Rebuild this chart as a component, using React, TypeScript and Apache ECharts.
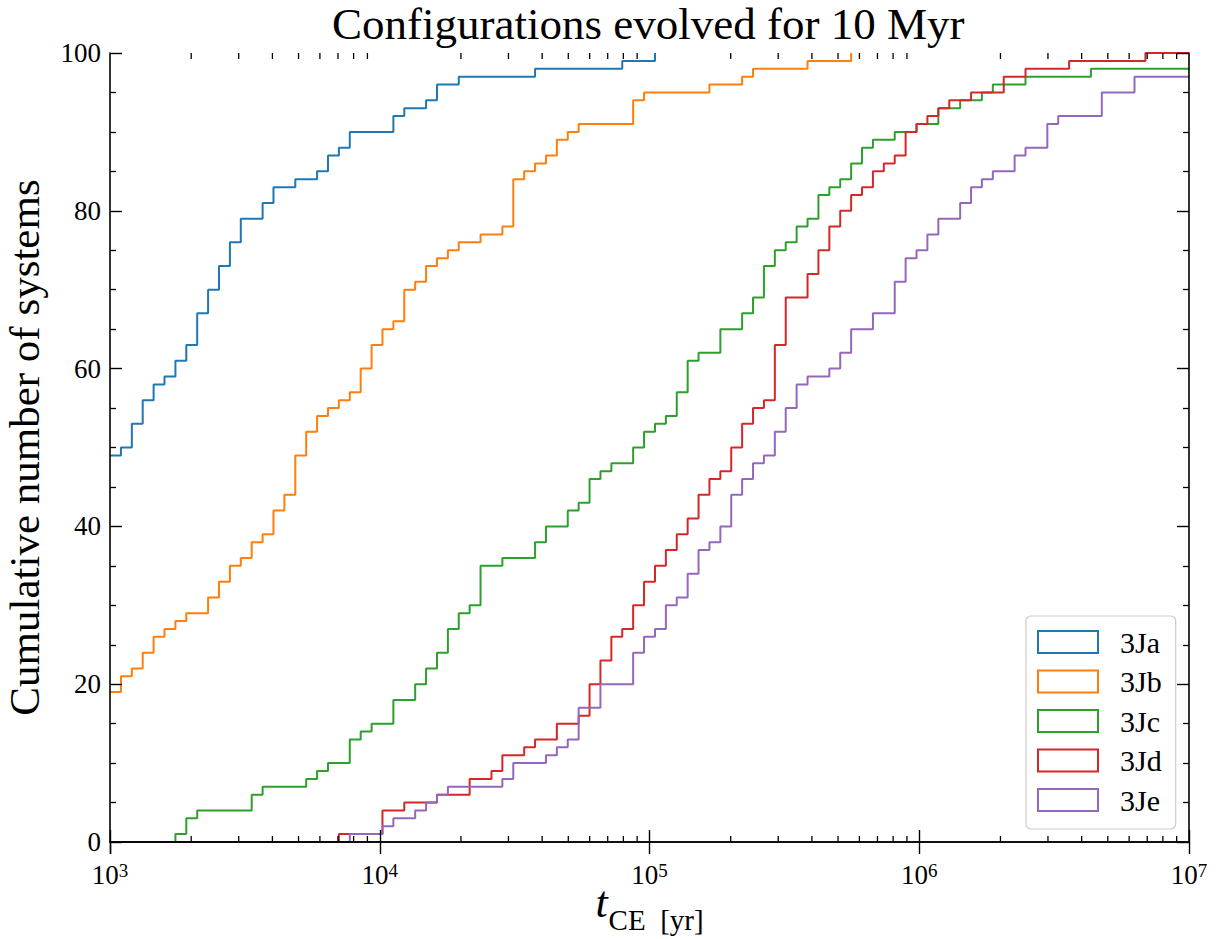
import React, { useEffect, useRef } from "react";
import * as echarts from "echarts";

// ---- data (t in yr, cumulative number of systems) ----
const names = ["3Ja", "3Jb", "3Jc", "3Jd", "3Je"];
const colors = ["#1f77b4", "#ff7f0e", "#2ca02c", "#d62728", "#9467bd"];

const jaT = [1000, 1098, 1205, 1322, 1451, 1592, 1748, 1918, 2105, 2310, 2535, 2783, 3054, 3679, 4037, 4863, 5857, 6428, 7055, 7743, 11233, 12328, 14850, 16300, 19630, 37650, 79250, 104800];
const jaN = [49, 50, 53, 56, 58, 59, 61, 63, 67, 70, 73, 76, 79, 81, 83, 84, 85, 87, 88, 90, 92, 93, 94, 96, 97, 98, 99, 100];

const jbT = [1000, 1098, 1205, 1322, 1451, 1592, 1748, 1918, 2310, 2535, 2783, 3054, 3352, 3679, 4037, 4431, 4863, 5337, 5857, 6428, 7055, 7743, 8498, 9326, 10235, 11233, 12328, 13530, 14850, 16300, 17890, 19630, 23640, 28480, 31260, 34310, 37650, 41320, 45350, 49770, 54620, 86970, 95450, 166800, 220500, 242000, 385400, 559100];
const jbN = [19, 21, 22, 24, 26, 27, 28, 29, 31, 33, 35, 36, 38, 39, 42, 44, 49, 52, 54, 55, 56, 57, 60, 63, 65, 66, 70, 71, 73, 74, 75, 76, 77, 78, 84, 85, 86, 87, 89, 90, 91, 94, 95, 96, 97, 98, 99, 100];

const jcT = [1000, 1748, 1918, 2105, 3352, 3679, 5337, 5857, 6428, 7743, 8498, 9326, 11233, 13530, 14850, 16300, 17890, 19630, 21540, 23640, 28480, 37650, 41320, 49770, 54620, 59950, 65790, 72210, 86970, 95450, 104800, 115000, 126200, 138500, 152000, 183100, 220500, 242000, 265600, 291500, 319900, 351100, 385400, 422900, 464200, 509400, 559100, 613600, 673400, 811100, 977000, 1177000, 1418000, 1707000, 1874000, 2477000, 4329000];
const jcN = [0, 1, 3, 4, 6, 7, 8, 9, 10, 13, 14, 15, 18, 20, 22, 24, 27, 29, 30, 35, 36, 38, 40, 42, 43, 46, 47, 48, 50, 52, 53, 54, 57, 61, 62, 65, 67, 69, 73, 75, 76, 78, 79, 82, 83, 84, 86, 88, 89, 90, 91, 93, 94, 95, 96, 97, 98];

const jdT = [1000, 7055, 10235, 12328, 16300, 21540, 25950, 28480, 34310, 37650, 45350, 54620, 59950, 65790, 72210, 79250, 86970, 95450, 104800, 115000, 126200, 138500, 152000, 166800, 183100, 200900, 220500, 242000, 265600, 291500, 319900, 385400, 422900, 464200, 509400, 559100, 613600, 673400, 739100, 811100, 890200, 977000, 1072000, 1177000, 1292000, 1556000, 2057000, 2477000, 3594000, 6893000];
const jdN = [0, 1, 4, 5, 6, 8, 9, 11, 12, 13, 15, 16, 20, 23, 26, 27, 30, 33, 35, 37, 39, 41, 44, 46, 47, 50, 53, 55, 56, 63, 69, 72, 75, 78, 80, 82, 83, 85, 86, 87, 90, 91, 92, 93, 94, 95, 97, 98, 99, 100];

const jeT = [1000, 7743, 10235, 11233, 13530, 14850, 16300, 17890, 28480, 31260, 41320, 45350, 49770, 54620, 65790, 86970, 95450, 104800, 115000, 126200, 138500, 152000, 166800, 183100, 200900, 220500, 242000, 265600, 291500, 319900, 351100, 385400, 464200, 509400, 559100, 673400, 811100, 890200, 977000, 1072000, 1177000, 1418000, 1556000, 1707000, 1874000, 2257000, 2477000, 2984000, 3275000, 4751000, 6280000];
const jeN = [0, 1, 2, 3, 4, 5, 6, 7, 8, 10, 11, 12, 13, 17, 20, 24, 26, 27, 30, 31, 34, 37, 38, 40, 44, 46, 48, 49, 52, 55, 58, 59, 60, 62, 65, 67, 71, 74, 75, 77, 79, 81, 83, 84, 85, 87, 88, 91, 92, 95, 97];

const seriesT = [jaT, jbT, jcT, jdT, jeT];
const seriesN = [jaN, jbN, jcN, jdN, jeN];

const xMin = 1e3;
const xMax = 1e7;
const yTicks = [0, 20, 40, 60, 80, 100];
const xMinorTicks = [
  2e3, 3e3, 4e3, 5e3, 6e3, 7e3, 8e3, 9e3,
  2e4, 3e4, 4e4, 5e4, 6e4, 7e4, 8e4, 9e4,
  2e5, 3e5, 4e5, 5e5, 6e5, 7e5, 8e5, 9e5,
  2e6, 3e6, 4e6, 5e6, 6e6, 7e6, 8e6, 9e6,
];

const FONT = "Liberation Serif";

export default function App() {
  const ref = useRef<HTMLDivElement>(null);

  useEffect(() => {
    if (!ref.current) return;
    const chart = echarts.init(ref.current, undefined, { renderer: "svg" });

    const lineSeries = names.map((name, i) => {
      const t = seriesT[i];
      const n = seriesN[i];
      const data: number[][] = t.map((v, j) => [v, n[j]]);
      const last = n[n.length - 1];
      if (last < yTicks[yTicks.length - 1] || t[t.length - 1] > 1e6) data.push([xMax, last]);
      return {
        name,
        type: "line",
        step: "end",
        data,
        showSymbol: false,
        symbol: "none",
        color: colors[i],
        lineStyle: { color: colors[i], width: 2 },
        z: 2,
        silent: true,
      };
    });

    const tickSeries = {
      type: "custom",
      silent: true,
      z: 6,
      clip: false,
      data: xMinorTicks.map((v) => [v, 0]),
      encode: { x: 0, y: 1 },
      renderItem: (params: any, api: any) => {
        const v = api.value(0);
        const b = api.coord([v, 0]);
        const t = api.coord([v, 100]);
        return {
          type: "group",
          children: [
            { type: "line", shape: { x1: b[0], y1: b[1], x2: b[0], y2: b[1] - 6 }, style: { stroke: "#000", lineWidth: 1.3 } },
            { type: "line", shape: { x1: t[0], y1: t[1], x2: t[0], y2: t[1] + 6 }, style: { stroke: "#000", lineWidth: 1.3 } },
          ],
        };
      },
    };

    const axisLine = { show: true, lineStyle: { color: "#000", width: 1.6 } };
    const majorTick = { show: true, inside: true, length: 12, lineStyle: { color: "#000", width: 1.4 } };

    const option: any = {
      animation: false,
      backgroundColor: "#fff",
      title: {
        text: "Configurations evolved for 10 Myr",
        left: 327,
        top: -4,
        textStyle: { fontFamily: FONT, fontWeight: "normal", fontSize: 45, color: "#000" },
      },
      grid: { left: 110, right: 32, top: 53, bottom: 97, containLabel: false, outerBoundsMode: "none" },
      legend: {
        orient: "vertical",
        left: 1026,
        top: 616,
        padding: [11, 14, 14, 11],
        itemWidth: 60,
        itemHeight: 22,
        itemGap: 9.5,
        selectedMode: false,
        backgroundColor: "#fff",
        borderColor: "#cccccc",
        borderWidth: 1.2,
        borderRadius: 5,
        z: 10,
        textStyle: { fontFamily: FONT, fontSize: 30, color: "#000", padding: [0, 0, 0, 17] },
        data: names.map((name, i) => ({
          name,
          icon: "rect",
          itemStyle: { color: "rgba(0,0,0,0)", borderColor: colors[i], borderWidth: 2 },
        })),
      },
      xAxis: [
        {
          type: "log",
          logBase: 10,
          min: xMin,
          max: xMax,
          position: "bottom",
          z: 5,
          axisLine,
          axisTick: majorTick,
          splitLine: { show: false },
          axisLabel: {
            margin: 19,
            fontFamily: FONT,
            fontSize: 27,
            color: "#000",
            formatter: (v: number) => "10{sup|" + Math.round(Math.log10(v)) + "}",
            rich: { sup: { fontFamily: FONT, fontSize: 19, color: "#000", verticalAlign: "top" } },
          },
          name: "{t|t}{s|CE  [yr]}",
          nameLocation: "middle",
          nameGap: 38,
          nameMoveOverlap: false,
          nameTextStyle: {
            rich: {
              t: { fontFamily: FONT, fontStyle: "italic", fontSize: 44, color: "#000", verticalAlign: "bottom", padding: [0, 1, 10, 0] },
              s: { fontFamily: FONT, fontSize: 29, color: "#000", verticalAlign: "bottom" },
            },
          },
        },
        {
          type: "log",
          logBase: 10,
          min: xMin,
          max: xMax,
          position: "top",
          z: 5,
          axisLine,
          axisTick: majorTick,
          axisLabel: { show: false },
          splitLine: { show: false },
        },
      ],
      yAxis: [
        {
          type: "value",
          min: yTicks[0],
          max: yTicks[yTicks.length - 1],
          interval: 20,
          position: "left",
          z: 5,
          axisLine,
          axisTick: majorTick,
          minorTick: { show: true, splitNumber: 4, length: 6, lineStyle: { color: "#000", width: 1.3 } },
          splitLine: { show: false },
          minorSplitLine: { show: false },
          axisLabel: { margin: 9, fontFamily: FONT, fontSize: 27, color: "#000" },
          name: "Cumulative number of systems",
          nameLocation: "middle",
          nameRotate: 90,
          nameGap: 64,
          nameMoveOverlap: false,
          nameTextStyle: { fontFamily: FONT, fontSize: 43, color: "#000" },
        },
        {
          type: "value",
          min: yTicks[0],
          max: yTicks[yTicks.length - 1],
          interval: 20,
          position: "right",
          z: 5,
          axisLine,
          axisTick: majorTick,
          minorTick: { show: true, splitNumber: 4, length: 6, lineStyle: { color: "#000", width: 1.3 } },
          splitLine: { show: false },
          axisLabel: { show: false },
        },
      ],
      series: [...lineSeries, tickSeries],
    };

    chart.setOption(option);
    return () => chart.dispose();
  }, []);

  return <div ref={ref} style={{ position: "fixed", left: 0, top: 0, width: 1221, height: 939 }} />;
}
